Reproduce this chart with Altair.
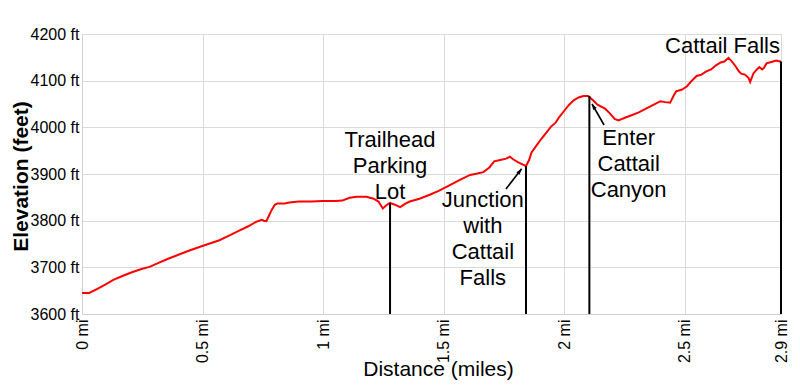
import altair as alt
import pandas as pd

# Elevation profile (miles, feet)
miles = [0.00, 0.03, 0.06, 0.10, 0.13, 0.17, 0.21, 0.25, 0.28, 0.32, 0.36, 0.40, 0.44,
         0.49, 0.53, 0.57, 0.61, 0.65, 0.69, 0.72, 0.745, 0.755, 0.765, 0.775, 0.787,
         0.80, 0.81, 0.84, 0.86, 0.90, 0.95, 1.00, 1.05, 1.08, 1.11, 1.14, 1.18, 1.21,
         1.23, 1.248, 1.265, 1.278, 1.30, 1.32, 1.34, 1.36, 1.40, 1.44, 1.48, 1.53,
         1.57, 1.61, 1.64, 1.665, 1.69, 1.71, 1.735, 1.76, 1.775, 1.79, 1.81, 1.83,
         1.842, 1.855, 1.865, 1.88, 1.905, 1.93, 1.945, 1.965, 1.98, 2.00, 2.02, 2.04,
         2.06, 2.08, 2.10, 2.12, 2.14, 2.17, 2.19, 2.21, 2.225, 2.25, 2.28, 2.31, 2.34,
         2.37, 2.40, 2.42, 2.44, 2.455, 2.465, 2.49, 2.51, 2.53, 2.55, 2.57, 2.59, 2.61,
         2.63, 2.65, 2.665, 2.682, 2.695, 2.71, 2.725, 2.735, 2.75, 2.765, 2.772, 2.785,
         2.80, 2.81, 2.822, 2.83, 2.84, 2.86, 2.88, 2.895, 2.90]
elev = [3645, 3645, 3653, 3664, 3673, 3682, 3690, 3697, 3701, 3710, 3719, 3727, 3735,
        3744, 3751, 3758, 3768, 3778, 3788, 3797, 3802, 3800, 3799, 3810, 3823,
        3834, 3837, 3837, 3839, 3841, 3841, 3842, 3842, 3843, 3849, 3851, 3851, 3847,
        3841, 3826, 3834, 3838, 3834, 3829, 3836, 3841, 3847, 3855, 3864, 3877,
        3888, 3898, 3901, 3904, 3914, 3927, 3930, 3933, 3937, 3931, 3925, 3920,
        3917, 3930, 3946, 3957, 3975, 3991, 4001, 4010, 4022, 4035, 4048, 4058,
        4064, 4067, 4067, 4058, 4048, 4040, 4030, 4018, 4015, 4020, 4026, 4032, 4040,
        4048, 4056, 4054, 4053, 4068, 4077, 4081, 4088, 4100, 4110, 4113, 4120, 4124,
        4133, 4139, 4141, 4149, 4142, 4132, 4120, 4115, 4113, 4106, 4097, 4115,
        4124, 4129, 4124, 4128, 4137, 4140, 4143, 4141, 4141]

# Vertical marker lines
marker_miles = [1.278, 1.842, 2.105, 2.9]
marker_elev = [3838, 3917, 4067, 4141]

# Annotation labels
center_texts = ["Trailhead\nParking\nLot", "Junction\nwith\nCattail\nFalls", "Enter\nCattail\nCanyon"]
center_miles = [1.278, 1.663, 2.268]
center_elev = [3958, 3829, 3962]
right_texts = ["Cattail Falls"]
right_miles = [2.9]
right_elev = [4160]

# Arrows
arrow_tail_mi = [1.759, 2.166]
arrow_tail_ft = [3868, 4005]
arrow_tip_mi = [1.824, 2.116]
arrow_tip_ft = [3911, 4050]
arrow_angle = [38, 330]

x_ticks = [0, 0.5, 1, 1.5, 2, 2.5, 2.9]
y_ticks = [3600, 3700, 3800, 3900, 4000, 4100, 4200]

FONT = "Liberation Sans"

profile = pd.DataFrame({"mi": miles, "ft": elev})
markers = pd.DataFrame({"mi": marker_miles, "ft": marker_elev, "base": [3600] * len(marker_miles)})
ctext = pd.DataFrame({"mi": center_miles, "ft": center_elev, "t": center_texts})
rtext = pd.DataFrame({"mi": right_miles, "ft": right_elev, "t": right_texts})
arrows = pd.DataFrame({"mi": arrow_tail_mi, "ft": arrow_tail_ft,
                       "mi2": arrow_tip_mi, "ft2": arrow_tip_ft, "ang": arrow_angle})

x_enc = alt.X("mi:Q", scale=alt.Scale(domain=[0, 2.9], nice=False, zero=False),
              axis=alt.Axis(values=x_ticks, labelExpr="datum.value + ' mi'",
                            labelAngle=270, labelAlign="right", labelBaseline="middle",
                            labelPadding=5, ticks=False, labelFlush=False, labelOverlap=False,
                            labelFontSize=16, labelColor="black", labelFont=FONT,
                            grid=True, gridColor="#dadada", domainColor="#d0d0d0",
                            title="Distance (miles)", titleFont=FONT, titleFontSize=21,
                            titleFontWeight="normal", titleColor="black",
                            titleX=356, titleY=61, titleBaseline="alphabetic",
                            titleAlign="center"))
y_enc = alt.Y("ft:Q", scale=alt.Scale(domain=[3600, 4200], nice=False, zero=False),
              axis=alt.Axis(values=y_ticks, labelExpr="datum.value + ' ft'",
                            ticks=False, labelPadding=3, labelFlush=False, labelOverlap=False,
                            labelFontSize=16, labelColor="black", labelFont=FONT,
                            grid=True, gridColor="#dadada", domainColor="#d0d0d0",
                            title="Elevation (feet)", titleFont=FONT, titleFontSize=21,
                            titleFontWeight="bold", titleColor="black",
                            titleX=-55, titleY=142, titleAngle=270,
                            titleBaseline="alphabetic", titleAlign="center"))

line = alt.Chart(profile).mark_line(color="#ff0000", strokeWidth=2).encode(x=x_enc, y=y_enc)

rules = alt.Chart(markers).mark_rule(color="black", strokeWidth=2).encode(
    x="mi:Q", y="ft:Q", y2="base:Q")

shafts = alt.Chart(arrows).mark_rule(color="black", strokeWidth=1.6).encode(
    x="mi:Q", y="ft:Q", x2="mi2:Q", y2="ft2:Q")

heads = alt.Chart(arrows).mark_point(
    shape="M0,0L-0.5,1.4L0.5,1.4Z", filled=True, color="black", opacity=1, size=70
).encode(x=alt.X("mi2:Q"), y=alt.Y("ft2:Q"), angle=alt.Angle("ang:Q", scale=None))

ctexts = alt.Chart(ctext).mark_text(
    font=FONT, fontSize=22, lineHeight=26, lineBreak="\n", align="center",
    baseline="alphabetic", color="black"
).encode(x="mi:Q", y="ft:Q", text="t:N")

rtexts = alt.Chart(rtext).mark_text(
    font=FONT, fontSize=22, align="right", baseline="alphabetic", color="black", dx=-1
).encode(x="mi:Q", y="ft:Q", text="t:N")

chart = alt.layer(line, rules, shafts, heads, ctexts, rtexts).properties(
    width=699, height=280,
    autosize=alt.AutoSizeParams(type="none"),
    padding={"left": 82, "top": 34, "right": 19, "bottom": 78},
    background="white",
).configure_view(strokeWidth=0)

chart.save("out.html", embed_options={"renderer": "svg", "actions": False})
